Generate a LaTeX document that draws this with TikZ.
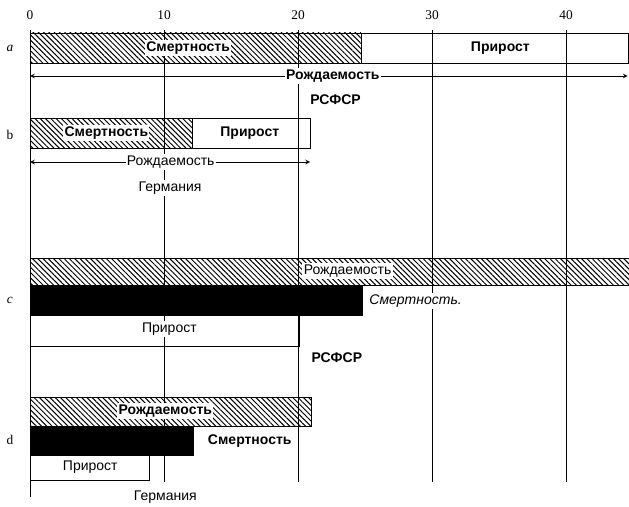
\documentclass[tikz,border=0pt]{standalone}
\usepackage{fontspec}
\setmainfont{Liberation Serif}
\newfontfamily\labelfont{Liberation Sans}
\usetikzlibrary{patterns.meta}
\begin{document}
\begin{tikzpicture}[x=10.05pt,y=-0.75pt,>=stealth,line width=0.6pt,
  hatch/.style={draw,pattern={Lines[angle=-45,distance=2.8pt,line width=0.75pt]}},
  word/.style={fill=white,inner sep=1pt,font=\labelfont\bfseries\fontsize{10.5}{12}\selectfont},
  thin word/.style={fill=white,inner sep=1pt,font=\labelfont\fontsize{10.5}{12}\selectfont}]
\useasboundingbox (-2.239,0) rectangle (44.70,506);

% scale and grid
\node (n0) at (0,15) {0};
\foreach \v in {10,20,30,40} {
  \node (n\v) at (\v,15) {\v};
  \draw (\v,30) -- (\v,482);
}
\draw (0,30) -- (0,497);

% a
\node (la) at (-1.5,48) {\textit{a}};
\draw[hatch] (0,33) rectangle (24.7,63);
\draw (24.7,33) rectangle (44.65,63);
\node[word] (sa) at (11.8,48) {Смертность};
\node[word] (pa) at (35.1,48) {Прирост};
\draw[<->] (0,76) coordinate (a0) -- (44.6,76) coordinate (a1);
\node[word] (ra) at (22.6,76) {Рождаемость};
\node[word] (rsa) at (22.8,100) {РСФСР};

% b
\node (lb) at (-1.5,135) {b};
\draw[hatch] (0,118) rectangle (12.1,148);
\draw (12.1,118) rectangle (20.9,148);
\node[word] (sb) at (5.7,133) {Смертность};
\node[word] (pb) at (16.4,133) {Прирост};
\draw[<->] (0,162) coordinate (b0) -- (20.9,162) coordinate (b1);
\node[thin word] (rb) at (10.5,162) {Рождаемость};
\node[thin word] (gb) at (10.45,188) {Германия};

% c
\node (lc) at (-1.5,300) {\textit{c}};
\draw[hatch] (0,258) rectangle (44.75,285);
\node[thin word] (rc) at (23.7,271) {Рождаемость};
\draw[fill=black] (0,285) rectangle (24.8,315);
\node[thin word,anchor=west,font=\labelfont\itshape\fontsize{10.5}{12}\selectfont] (sc) at (25.2,301) {Смертность.};
\draw (0,315) rectangle (20.1,346);
\node[thin word] (pc) at (10.4,329) {Прирост};
\node[word] (rsc) at (22.9,358) {РСФСР};

% d
\node (ld) at (-1.5,440) {d};
\draw[hatch] (0,397) rectangle (21,426);
\node[word] (rd) at (10.1,411) {Рождаемость};
\draw[fill=black] (0,426) rectangle (12.2,455);
\node[word] (sd) at (16.4,441) {Смертность};
\draw (0,455) rectangle (8.9,480);
\node[thin word] (pd) at (4.5,467) {Прирост};
\node[thin word] (gd) at (10.1,497) {Германия};
\end{tikzpicture}
\end{document}
